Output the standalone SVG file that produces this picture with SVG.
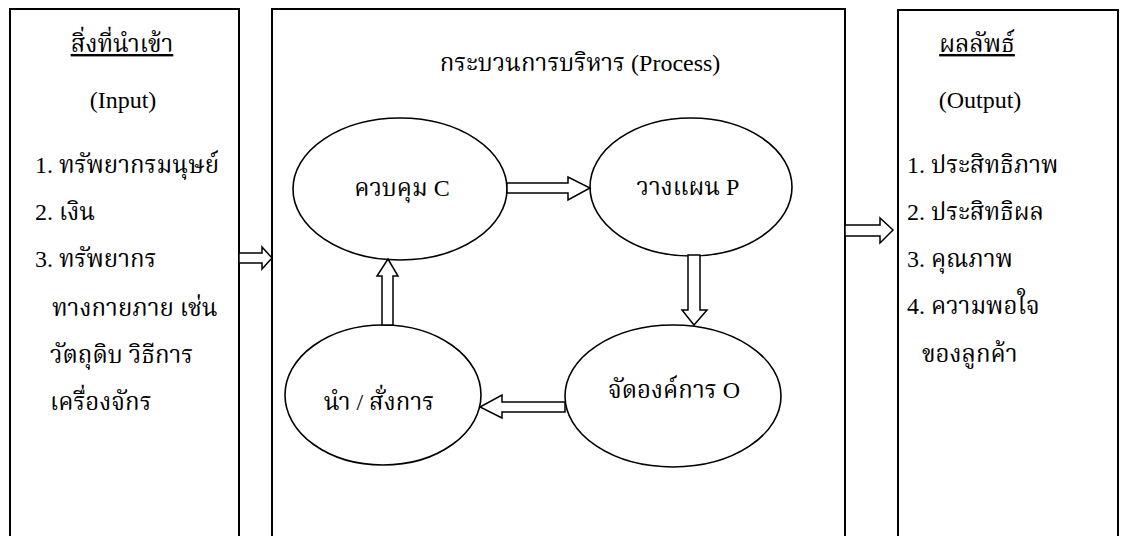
<svg xmlns="http://www.w3.org/2000/svg" width="1123" height="536" viewBox="0 0 1123 536">
<style>
text{font-family:"Liberation Serif","Noto Serif Thai","Noto Sans Thai","DejaVu Sans",serif;font-size:24px;fill:#000}
.c{text-anchor:middle}
.u{text-decoration:underline}
.box{fill:none;stroke:#000;stroke-width:2}
.ell{fill:#fff;stroke:#000;stroke-width:1.6}
.arr{fill:#fff;stroke:#000;stroke-width:1.5;stroke-linejoin:miter}
</style>
<rect width="1123" height="536" fill="#fff"/>
<g id="input">
<rect class="box" x="10" y="9" width="229" height="540"/>
<text class="c u" x="122" y="52">สิ่งที่นำเข้า</text>
<text class="c" x="123" y="108">(Input)</text>
<text x="35" y="173">1. ทรัพยากรมนุษย์</text>
<text x="35" y="220">2. เงิน</text>
<text x="35" y="267">3. ทรัพยากร</text>
<text x="52" y="316">ทางกายภาย เช่น</text>
<text x="50" y="363">วัตถุดิบ วิธีการ</text>
<text x="50" y="410">เครื่องจักร</text>
</g>
<g id="process">
<rect class="box" x="272" y="9" width="573" height="540"/>
<text class="c" x="580" y="71">กระบวนการบริหาร (Process)</text>
</g>
<g id="output">
<rect class="box" x="898" y="10" width="220" height="540"/>
<text class="c u" x="977" y="52">ผลลัพธ์</text>
<text class="c" x="980" y="108">(Output)</text>
<text x="907" y="173">1. ประสิทธิภาพ</text>
<text x="907" y="220">2. ประสิทธิผล</text>
<text x="907" y="267">3. คุณภาพ</text>
<text x="907" y="314">4. ความพอใจ</text>
<text x="922" y="362">ของลูกค้า</text>
</g>
<g id="control">
<ellipse class="ell" cx="400" cy="189" rx="107" ry="71"/>
<text class="c" x="402" y="196">ควบคุม C</text>
</g>
<g id="plan">
<ellipse class="ell" cx="691" cy="187" rx="101" ry="69"/>
<text class="c" x="688" y="195">วางแผน P</text>
</g>
<g id="lead">
<ellipse class="ell" cx="383" cy="395" rx="98" ry="70"/>
<text class="c" x="379" y="410">นำ / สั่งการ</text>
</g>
<g id="organize">
<ellipse class="ell" cx="673" cy="396" rx="108" ry="71"/>
<text class="c" x="674" y="398">จัดองค์การ O</text>
</g>
<g id="connectors">
<polygon class="arr" points="239,253 262,253 262,247 272,258 262,269 262,263 239,263"/>
<polygon class="arr" points="845,225 880,225 880,218 893,230 880,243 880,236 845,236"/>
<polygon class="arr" points="507,183 568,183 568,177 590,188 568,200 568,193 507,193"/>
<polygon class="arr" points="688,255 700,255 700,310 707,310 694,325 682,310 688,310"/>
<polygon class="arr" points="565,402 502,402 502,395 480,407 502,418 502,412 565,412"/>
<polygon class="arr" points="382,325 382,276 377,276 388,259 398,276 393,276 393,325"/>
</g>
</svg>
